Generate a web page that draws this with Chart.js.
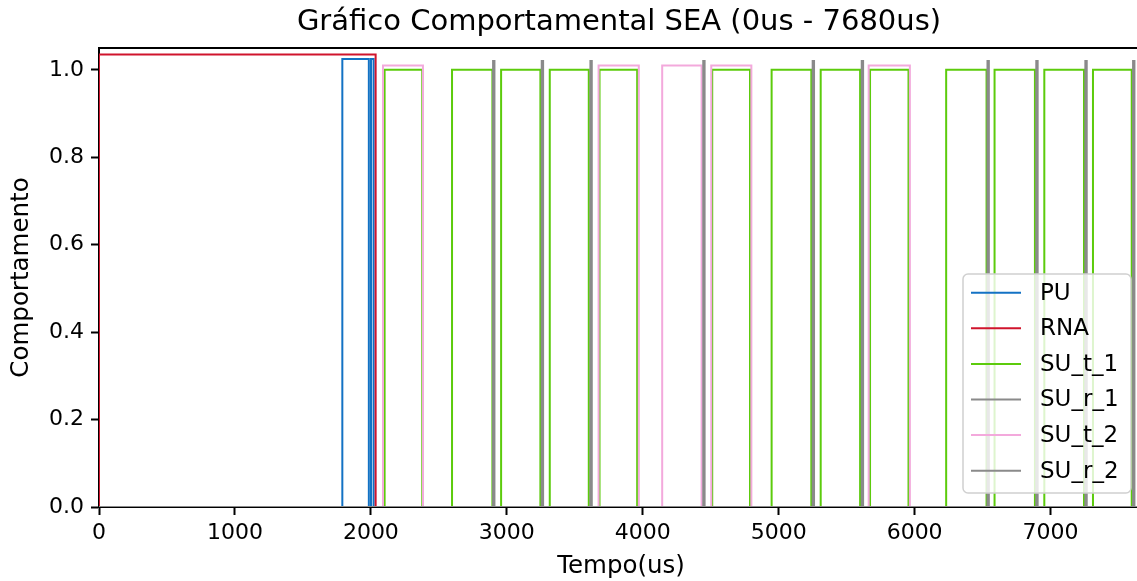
<!DOCTYPE html>
<html>
<head>
<meta charset="utf-8">
<script src="https://cdn.jsdelivr.net/npm/chart.js@4/dist/chart.umd.min.js"></script>
<style>
html, body { margin:0; padding:0; overflow:hidden; background:#fff; width:1137px; height:581px; }
#wrap { width:1144px; height:581px; }
</style>
</head>
<body>
<div id="wrap"><canvas id="c" width="1144" height="581"></canvas></div>
<script>
// ---- Data ----
const seriesNames = ['PU', 'RNA', 'SU_t_1', 'SU_r_1', 'SU_t_2', 'SU_r_2'];
const seriesLevels = [1.025, 1.035, 1.0, 1.02, 1.01, 1.02];
// pulses as [start, end] in microseconds
const PU_pulses = [[1790, 1985], [2001, 2020]];
const RNA_pulses = [[0, 2035]];
const SU_t_1_pulses = [[2101, 2378], [2597, 2894], [2958, 3247], [3316, 3603], [3682, 3959],
  [4511, 4789], [4948, 5240], [5309, 5599], [5672, 5955], [6232, 6529], [6588, 6885],
  [6954, 7246], [7312, 7597]];
const SU_r_1_pulses = [[2899, 2909], [3257, 3267], [3615, 3625], [5250, 5260], [5611, 5621],
  [6536, 6546], [6895, 6905], [7256, 7266], [7607, 7617]];
const SU_t_2_pulses = [[2089, 2383], [3675, 3971], [4143, 4433], [4504, 4799], [5662, 5965]];
const SU_r_2_pulses = [[4445, 4455]];
const xTicks = [0, 1000, 2000, 3000, 4000, 5000, 6000, 7000];
const yTicks = [0, 0.2, 0.4, 0.6, 0.8, 1.0];
const xMin = 0, xMax = 7680, yMin = 0, yMax = 1.05;
const chartTitle = 'Gráfico Comportamental SEA (0us - 7680us)';

const allPulses = [PU_pulses, RNA_pulses, SU_t_1_pulses, SU_r_1_pulses, SU_t_2_pulses, SU_r_2_pulses];
const colors = ['#1372c4', '#d0142c', '#5ccb0c', '#8a8a8a', '#f3a9dc', '#8a8a8a'];

function stepPoints(pulses, level) {
  const pts = [{x: xMin, y: 0}];
  for (const [s, e] of pulses) {
    pts.push({x: s, y: 0}, {x: s, y: level}, {x: e, y: level}, {x: e, y: 0});
  }
  pts.push({x: xMax, y: 0});
  return pts;
}

const FONT = "'DejaVu Sans', sans-serif";
Chart.defaults.color = '#000';
Chart.defaults.font.family = FONT;

const datasets = seriesNames.map((n, i) => ({
  label: n,
  data: stepPoints(allPulses[i], seriesLevels[i]),
  borderColor: colors[i],
  backgroundColor: colors[i],
  borderWidth: 2,
  pointRadius: 0,
  tension: 0,
  fill: false,
  order: seriesNames.length - i,
  borderJoinStyle: 'miter'
}));

const frame = {
  id: 'frame',
  afterDraw(chart) {
    const {ctx, chartArea: a} = chart;
    ctx.save();
    // title centred over the plot area
    ctx.fillStyle = '#000';
    ctx.font = '29px ' + FONT;
    ctx.textAlign = 'center';
    ctx.textBaseline = 'middle';
    ctx.fillText(chartTitle, (a.left + a.right) / 2 - 2, 22);
    // top spine
    ctx.strokeStyle = '#000';
    ctx.lineWidth = 2;
    ctx.beginPath();
    ctx.moveTo(a.left - 1, a.top);
    ctx.lineTo(a.right + 1, a.top);
    ctx.stroke();
    // legend
    const bx = 963, by = 274, bw = 168, bh = 219, r = 5;
    ctx.beginPath();
    ctx.moveTo(bx + r, by);
    ctx.arcTo(bx + bw, by, bx + bw, by + bh, r);
    ctx.arcTo(bx + bw, by + bh, bx, by + bh, r);
    ctx.arcTo(bx, by + bh, bx, by, r);
    ctx.arcTo(bx, by, bx + bw, by, r);
    ctx.closePath();
    ctx.fillStyle = 'rgba(255,255,255,0.8)';
    ctx.fill();
    ctx.strokeStyle = '#d0d0d0';
    ctx.lineWidth = 1.5;
    ctx.stroke();
    ctx.font = '23px ' + FONT;
    ctx.textBaseline = 'middle';
    ctx.textAlign = 'left';
    chart.data.datasets.forEach((ds, i) => {
      const y = 292.7 + i * 35.6;
      ctx.strokeStyle = ds.borderColor;
      ctx.lineWidth = 2;
      ctx.beginPath();
      ctx.moveTo(971, y);
      ctx.lineTo(1021, y);
      ctx.stroke();
      ctx.fillStyle = '#000';
      ctx.fillText(ds.label, 1040, y + 1);
    });
    ctx.restore();
  }
};

new Chart(document.getElementById('c'), {
  type: 'line',
  data: { datasets },
  options: {
    responsive: false,
    animation: false,
    devicePixelRatio: 1,
    layout: { padding: { left: 0, right: 1, top: 48, bottom: 0 } },
    plugins: {
      legend: { display: false },
      tooltip: { enabled: false },
      title: { display: false }
    },
    scales: {
      x: {
        type: 'linear',
        min: xMin, max: xMax,
        afterBuildTicks: (s) => { s.ticks = xTicks.map(v => ({value: v})); },
        afterFit: (s) => { s.height = 74; },
        ticks: { font: { size: 22 }, padding: 5, maxRotation: 0, callback: (v) => String(v) },
        grid: { drawOnChartArea: false, drawTicks: true, tickLength: 8, color: '#000', tickWidth: 2 },
        border: { display: true, color: '#000', width: 2 },
        title: { display: true, text: 'Tempo(us)', font: { size: 24.5 }, padding: { top: 0, bottom: 0 } }
      },
      y: {
        type: 'linear',
        min: yMin, max: yMax,
        afterBuildTicks: (s) => { s.ticks = yTicks.map(v => ({value: v})); },
        afterFit: (s) => { s.width = 99; },
        ticks: { font: { size: 22 }, padding: 7, callback: (v) => Number(v).toFixed(1) },
        grid: { drawOnChartArea: false, drawTicks: true, tickLength: 8, color: '#000', tickWidth: 2 },
        border: { display: true, color: '#000', width: 2 },
        title: { display: true, text: 'Comportamento', font: { size: 24.5 }, padding: { top: 7, bottom: 0 } }
      }
    }
  },
  plugins: [frame]
});
</script>
</body>
</html>
